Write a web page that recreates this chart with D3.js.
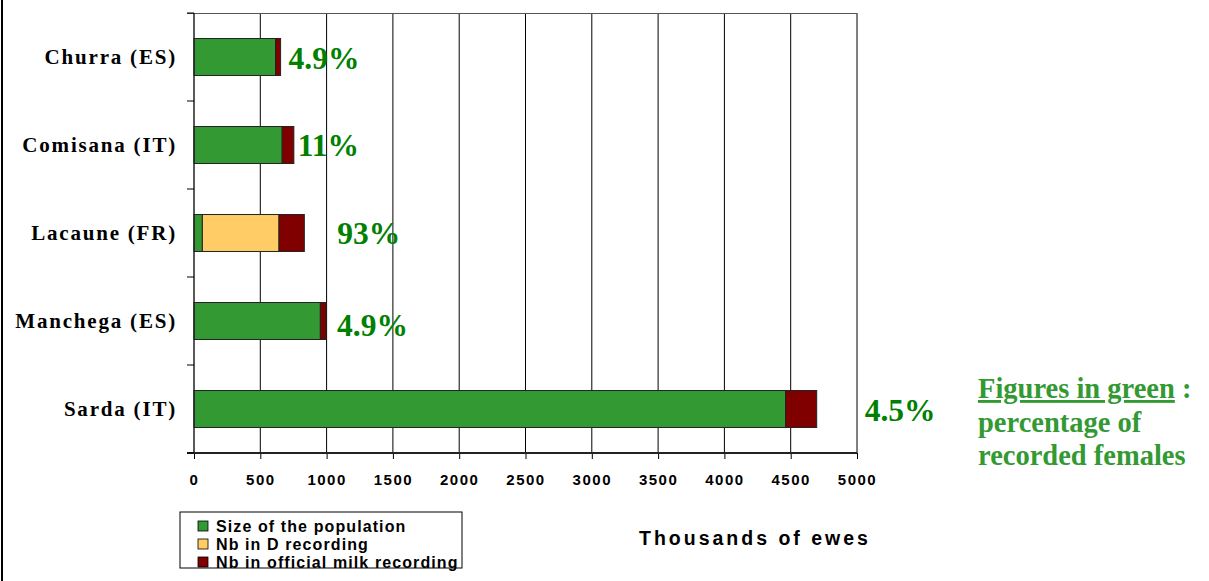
<!DOCTYPE html>
<html>
<head>
<meta charset="utf-8">
<script src="https://cdn.jsdelivr.net/npm/d3@7"></script>
<style>
  html, body { margin: 0; padding: 0; background: #fff; }
  svg { display: block; }
</style>
</head>
<body>
<svg id="chart" width="1209" height="581"></svg>
<script>
// Breeds, top to bottom
const breeds = ["Churra (ES)", "Comisana (IT)", "Lacaune (FR)", "Manchega (ES)", "Sarda (IT)"];
// Thousands of ewes per segment
const populationSize = [615, 665, 63, 953, 4462];
const dRecording = [0, 0, 578, 0, 0];
const officialRecording = [38, 88, 191, 43, 234];
// Share of recorded females
const recordedPct = ["4.9%", "11%", "93%", "4.9%", "4.5%"];
const xTicks = [0, 500, 1000, 1500, 2000, 2500, 3000, 3500, 4000, 4500, 5000];
const seriesNames = ["Size of the population", "Nb in D recording", "Nb in official milk recording"];
const seriesColors = ["#339933", "#ffcc66", "#800000"];

const svg = d3.select("#chart");
const plot = { left: 194, top: 13, right: 857, bottom: 453 };

const x = d3.scaleLinear().domain([0, 5000]).range([plot.left, plot.right]);
const y = d3.scaleBand().domain(breeds).range([plot.top, plot.bottom])
  .paddingInner(0.58).paddingOuter(0.29);
const step = y.step();

// left frame line of the slide
svg.append("line").attr("x1", 2).attr("x2", 2).attr("y1", 0).attr("y2", 581)
  .attr("stroke", "#000").attr("stroke-width", 2);

// vertical gridlines
svg.append("g").selectAll("line").data(xTicks.slice(1)).join("line")
  .attr("x1", d => x(d)).attr("x2", d => x(d))
  .attr("y1", plot.top).attr("y2", plot.bottom)
  .attr("stroke", "#000").attr("stroke-width", 1);

// top border
svg.append("line").attr("x1", plot.left - 7).attr("x2", plot.right)
  .attr("y1", plot.top + 0.5).attr("y2", plot.top + 0.5)
  .attr("stroke", "#555").attr("stroke-width", 1);

// stacked bars
const stackData = breeds.map((b, i) => ({
  breed: b, s0: populationSize[i], s1: dRecording[i], s2: officialRecording[i]
}));
const stack = d3.stack().keys(["s0", "s1", "s2"])(stackData);
svg.append("g").selectAll("g").data(stack).join("g")
  .attr("fill", (d, i) => seriesColors[i])
  .selectAll("rect").data(d => d.filter(p => p[1] > p[0])).join("rect")
  .attr("x", d => x(d[0]))
  .attr("y", d => y(d.data.breed))
  .attr("width", d => x(d[1]) - x(d[0]))
  .attr("height", y.bandwidth())
  .attr("stroke", "#222").attr("stroke-width", 1);

// x axis
const xAxis = d3.axisBottom(x).tickValues(xTicks).tickSize(6).tickPadding(15).tickFormat(d3.format("d"));
const gx = svg.append("g").attr("transform", `translate(0,${plot.bottom})`).call(xAxis);
gx.select(".domain").remove();
gx.selectAll(".tick line").attr("stroke", "#000");
gx.selectAll("text").attr("font-family", "Liberation Sans, Arial, sans-serif")
  .attr("font-weight", "bold").attr("font-size", 15).attr("letter-spacing", 1.5).attr("fill", "#000");
svg.append("line").attr("x1", plot.left - 7).attr("x2", plot.right)
  .attr("y1", plot.bottom).attr("y2", plot.bottom)
  .attr("stroke", "#222").attr("stroke-width", 2);

// y axis line and ticks at band boundaries
svg.append("line").attr("x1", plot.left).attr("x2", plot.left)
  .attr("y1", plot.top).attr("y2", plot.bottom).attr("stroke", "#222").attr("stroke-width", 1.5);
svg.append("g").selectAll("line").data(d3.range(breeds.length + 1)).join("line")
  .attr("x1", plot.left - 7).attr("x2", plot.left)
  .attr("y1", i => plot.top + i * step).attr("y2", i => plot.top + i * step)
  .attr("stroke", "#000");

// breed labels
svg.append("g").selectAll("text").data(breeds).join("text")
  .attr("x", plot.left - 17)
  .attr("y", d => y(d) + y.bandwidth() / 2)
  .attr("dy", "0.35em")
  .attr("text-anchor", "end")
  .attr("font-family", "Liberation Serif, Times New Roman, serif")
  .attr("font-weight", "bold").attr("font-size", 21).attr("letter-spacing", 1.8)
  .text(d => d);

// percentage labels beside the bars
const labelGap = [8, 4, 33, 11, 48];
const labelDrop = [1, 0, 0, 4, 1];
svg.append("g").selectAll("text").data(breeds).join("text")
  .attr("x", (d, i) => x(populationSize[i] + dRecording[i] + officialRecording[i]) + labelGap[i])
  .attr("y", (d, i) => y(d) + y.bandwidth() / 2 + labelDrop[i])
  .attr("dy", "0.35em")
  .attr("font-family", "Liberation Serif, Times New Roman, serif")
  .attr("font-weight", "bold").attr("font-size", 31.5)
  .attr("fill", "#008000")
  .text((d, i) => recordedPct[i]);

// axis title
svg.append("text").attr("x", 755).attr("y", 545).attr("text-anchor", "middle")
  .attr("font-family", "Liberation Sans, Arial, sans-serif")
  .attr("font-weight", "bold").attr("font-size", 19.5).attr("letter-spacing", 3)
  .text("Thousands of ewes");

// legend
const lg = svg.append("g").attr("transform", "translate(180,512)");
lg.append("rect").attr("width", 282).attr("height", 56)
  .attr("fill", "#fff").attr("stroke", "#000").attr("stroke-width", 1);
const items = lg.selectAll("g").data(seriesNames).join("g")
  .attr("transform", (d, i) => `translate(18,${14 + i * 18})`);
items.append("rect").attr("x", 0).attr("y", -5).attr("width", 10).attr("height", 10)
  .attr("fill", (d, i) => seriesColors[i]).attr("stroke", "#000").attr("stroke-width", 0.8);
items.append("text").attr("x", 18).attr("dy", "0.36em")
  .attr("font-family", "Liberation Sans, Arial, sans-serif")
  .attr("font-weight", "bold").attr("font-size", 16).attr("letter-spacing", 1.1)
  .text(d => d);

// note on the right
const note = svg.append("text")
  .attr("font-family", "Liberation Serif, Times New Roman, serif")
  .attr("font-weight", "bold").attr("font-size", 28.5).attr("fill", "#339933");
note.append("tspan").attr("x", 978).attr("y", 398)
  .attr("text-decoration", "underline").text("Figures in green");
note.append("tspan").text(" :");
note.append("tspan").attr("x", 978).attr("y", 432).text("percentage of");
note.append("tspan").attr("x", 978).attr("y", 465).text("recorded females");
</script>
</body>
</html>
